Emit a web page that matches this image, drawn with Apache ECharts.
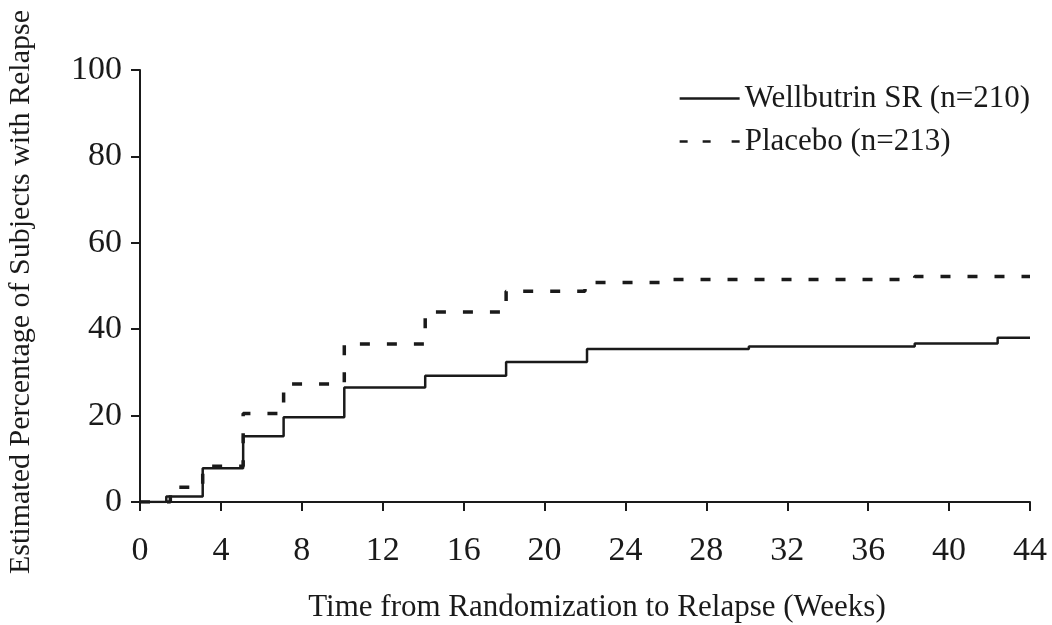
<!DOCTYPE html>
<html>
<head>
<meta charset="utf-8">
<script src="https://cdn.jsdelivr.net/npm/echarts@6/dist/echarts.min.js"></script>
<style>
  html, body { margin: 0; padding: 0; background: #fff; }
  #chart { width: 1052px; height: 625px; }
</style>
</head>
<body>
<div id="chart"></div>
<script>
  // weeks / estimated % relapsed
  const xTicks = [0, 4, 8, 12, 16, 20, 24, 28, 32, 36, 40, 44]
  const yTicks = [0, 20, 40, 60, 80, 100]
  const wellTimes = [0, 1.3, 3.1, 5.1, 7.1, 10.1, 14.1, 18.1, 22.1, 30.1, 38.3, 42.4, 44]
  const wellValues = [0, 1.3, 7.8, 15.2, 19.6, 26.5, 29.2, 32.4, 35.4, 36.0, 36.7, 38.0, 38.0]
  const placeboTimes = [0, 1.5, 3.1, 5.1, 7.1, 10.1, 14.1, 18.1, 22.0, 26.1, 38.3, 44]
  const placeboValues = [0, 3.4, 8.3, 20.5, 27.3, 36.6, 44.0, 48.8, 50.8, 51.5, 52.2, 52.2]

  const font = 'Liberation Serif, Times New Roman, serif'
  const ink = '#1a1a1a'

  const pairs = (xs, ys) => xs.map((x, i) => [x, ys[i]])

  // legend samples: a plain bar and three short dashes
  const solidIcon = 'path://M0,0L60,0L60,2.5L0,2.5Z'
  const dashIcon = 'path://M0,0h8v2.5h-8zM23,0h8v2.5h-8zM52,0h8v2.5h-8z'

  const chart = echarts.init(document.getElementById('chart'))
  chart.setOption({
    backgroundColor: '#fff',
    animation: false,
    grid: {
      left: 140,
      right: 22,
      top: 70,
      bottom: 123,
      outerBoundsMode: 'none'
    },
    legend: {
      orient: 'vertical',
      right: 17,
      top: 78,
      itemWidth: 60,
      itemHeight: 2.5,
      itemGap: 12,
      textStyle: {
        fontFamily: font,
        fontSize: 31,
        color: ink
      },
      data: [
        { name: 'Wellbutrin SR (n=210)', icon: solidIcon },
        { name: 'Placebo (n=213)', icon: dashIcon }
      ]
    },
    xAxis: {
      type: 'value',
      min: 0,
      max: 44,
      interval: 4,
      name: 'Time from Randomization to Relapse (Weeks)',
      nameLocation: 'middle',
      nameGap: 90,
      nameTextStyle: {
        fontFamily: font,
        fontSize: 31,
        color: ink,
        padding: [0, 0, 0, 24]
      },
      axisLine: { lineStyle: { color: ink, width: 2 } },
      axisTick: { show: true, inside: false, length: 9, lineStyle: { color: ink, width: 2 } },
      axisLabel: {
        margin: 32,
        fontFamily: font,
        fontSize: 34,
        color: ink,
        formatter: v => xTicks.includes(v) ? String(v) : ''
      },
      splitLine: { show: false }
    },
    yAxis: {
      type: 'value',
      min: 0,
      max: 100,
      interval: 20,
      name: 'Estimated Percentage of Subjects with Relapse',
      nameLocation: 'middle',
      nameGap: 104,
      nameTextStyle: {
        fontFamily: font,
        fontSize: 30,
        color: ink,
        padding: [0, 12, 0, 0]
      },
      axisLine: { show: true, lineStyle: { color: ink, width: 2 } },
      axisTick: { show: true, inside: false, length: 9, lineStyle: { color: ink, width: 2 } },
      axisLabel: {
        margin: 18,
        fontFamily: font,
        fontSize: 34,
        color: ink,
        formatter: v => yTicks.includes(v) ? String(v) : ''
      },
      splitLine: { show: false }
    },
    series: [{
      name: 'Wellbutrin SR (n=210)',
      type: 'line',
      step: 'end',
      symbol: 'none',
      lineStyle: { color: ink, width: 2.5 },
      itemStyle: { color: ink },
      data: pairs(wellTimes, wellValues)
    }, {
      name: 'Placebo (n=213)',
      type: 'line',
      step: 'end',
      symbol: 'none',
      lineStyle: { color: ink, width: 3.5, type: [10, 17] },
      itemStyle: { color: ink },
      data: pairs(placeboTimes, placeboValues)
    }]
  })
</script>
</body>
</html>
